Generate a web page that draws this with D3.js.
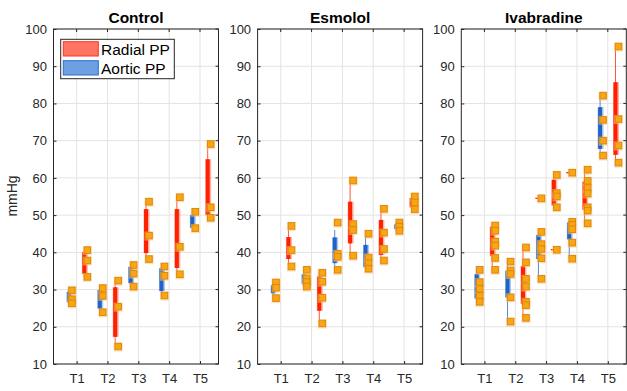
<!DOCTYPE html>
<html>
<head>
<meta charset="utf-8">
<script src="https://cdn.jsdelivr.net/npm/d3@7"></script>
<style>
  body { margin: 0; background: #fff; }
  svg { display: block; font-family: 'Liberation Sans', Arial, sans-serif; }
</style>
</head>
<body>
<svg id="chart" width="627" height="391"></svg>
<script>
const categories = ['T1', 'T2', 'T3', 'T4', 'T5'];
const groups = ['Control', 'Esmolol', 'Ivabradine'];
const yTicks = [10, 20, 30, 40, 50, 60, 70, 80, 90, 100];

// box stats per time point: [lower whisker, q1, q3, upper whisker]
const controlAorticBox = [[26.3, 26.6, 29.4, 29.8], [23.9, 24.9, 29.9, 30.4], [30.8, 31.7, 36.1, 36.6], [28.4, 29.6, 35.7, 36.2], [46.5, 46.6, 50.0, 50.9]];
const controlRadialBox = [[33.4, 34.2, 40.0, 40.6], [14.7, 17.3, 30.6, 32.4], [38.2, 39.8, 51.6, 53.6], [34.1, 35.8, 51.6, 54.8], [49.3, 50.0, 65.0, 69.1]];
const esmololAorticBox = [[27.7, 29.0, 31.2, 31.9], [30.8, 31.4, 34.1, 35.3], [35.3, 37.1, 44.0, 46.0], [35.6, 36.0, 42.0, 45.0], [45.8, 46.3, 47.5, 48.0]];
const esmololRadialBox = [[36.2, 38.2, 44.1, 47.1], [20.9, 24.3, 33.5, 34.5], [39.1, 42.4, 53.6, 59.3], [37.8, 39.3, 48.7, 51.7], [51.6, 52.1, 54.6, 55.0]];
const ivabAorticBox = [[26.7, 27.6, 34.2, 35.3], [21.4, 27.9, 35.1, 37.5], [32.9, 38.2, 44.7, 45.5], [38.3, 43.5, 48.0, 48.2], [65.8, 67.8, 79.0, 82.1]];
const ivabRadialBox = [[35.3, 39.1, 46.9, 47.2], [22.4, 26.1, 36.3, 41.3], [52.1, 52.6, 59.5, 60.8], [47.8, 51.4, 59.0, 62.2], [64.1, 66.2, 85.7, 95.3]];

// individual subjects
const controlAorticPts = [[29.8, 27.4, 26.3], [30.4, 28.3, 23.9], [36.6, 34.3, 30.8], [36.2, 33.7, 28.4], [50.9, 46.5]];
const controlRadialPts = [[40.6, 37.8, 33.4], [32.4, 25.4, 14.7], [53.6, 44.5, 38.2], [54.8, 41.5, 34.1], [69.1, 52.1, 49.3]];
const esmololAorticPts = [[31.9, 30.5, 27.7], [35.3, 33.0, 32.0, 30.8], [48.0, 39.6, 38.8, 35.3], [45.0, 38.6, 37.1, 35.6], [48.0, 46.9, 45.8]];
const esmololRadialPts = [[47.1, 40.6, 36.2], [34.5, 32.1, 27.8, 20.9], [59.3, 47.6, 46.0, 39.1], [51.7, 45.3, 40.9, 37.8], [55.0, 53.4, 51.6]];
const ivabAorticPts = [[35.3, 32.0, 30.2, 28.3, 26.7], [37.5, 35.1, 34.2, 27.9, 21.4], [54.5, 45.5, 42.2, 40.9, 38.4, 32.9], [61.4, 48.2, 47.4, 46.2, 42.6, 38.3], [82.1, 75.6, 70.0, 66.0]];
const ivabRadialPts = [[47.2, 45.8, 42.9, 41.8, 38.5, 35.3], [41.3, 37.3, 32.9, 30.8, 26.7, 25.8, 22.4], [60.8, 55.9, 55.0, 52.1, 40.7], [62.2, 59.2, 57.3, 55.8, 52.1, 51.2, 47.8], [95.3, 75.8, 68.7, 64.1]];

// outliers flagged by the boxplot
const ivabAorticOut = [[], [], [54.5], [61.4], []];
const ivabRadialOut = [[], [], [40.7], [], []];

const panels = [
  { name: groups[0], aBox: controlAorticBox, rBox: controlRadialBox, aPts: controlAorticPts, rPts: controlRadialPts, aOut: [], rOut: [] },
  { name: groups[1], aBox: esmololAorticBox, rBox: esmololRadialBox, aPts: esmololAorticPts, rPts: esmololRadialPts, aOut: [], rOut: [] },
  { name: groups[2], aBox: ivabAorticBox, rBox: ivabRadialBox, aPts: ivabAorticPts, rPts: ivabRadialPts, aOut: ivabAorticOut, rOut: ivabRadialOut },
];

const blue = '#1f63c8';
const red = '#ff2000';
const axisColor = '#262626';
const panelLeft = [53.5, 257.6, 461.3];
const panelWidth = 165;
const plotTop = 29, plotBottom = 364;

const svg = d3.select('#chart');
const y = d3.scaleLinear().domain([10, 100]).range([plotBottom, plotTop]);

panels.forEach((p, i) => {
  const L = panelLeft[i];
  const x = d3.scaleLinear().domain([0.25, 5.6]).range([L, L + panelWidth]);
  const g = svg.append('g');

  // grid
  g.append('g').selectAll('line').data(yTicks).enter().append('line')
    .attr('x1', L).attr('x2', L + panelWidth)
    .attr('y1', d => y(d)).attr('y2', d => y(d))
    .attr('stroke', '#e3e3e3').attr('stroke-width', 1);
  g.append('g').selectAll('line').data([1, 2, 3, 4, 5]).enter().append('line')
    .attr('x1', d => x(d)).attr('x2', d => x(d))
    .attr('y1', plotTop).attr('y2', plotBottom)
    .attr('stroke', '#e3e3e3').attr('stroke-width', 1);

  // axes
  const yAxis = g.append('g')
    .attr('transform', `translate(${L},0)`)
    .call(d3.axisLeft(y).tickValues(yTicks).tickSizeInner(-3).tickSizeOuter(0).tickPadding(6.5));
  const xAxis = g.append('g')
    .attr('transform', `translate(0,${plotBottom})`)
    .call(d3.axisBottom(x).tickValues([1, 2, 3, 4, 5]).tickFormat((d, j) => categories[j]).tickSizeInner(-3).tickSizeOuter(0).tickPadding(10));
  [yAxis, xAxis].forEach(a => {
    a.select('.domain').remove();
    a.selectAll('line').attr('stroke', axisColor);
    a.selectAll('text').attr('fill', axisColor).style('font-size', '13px').style('font-family', "'Liberation Sans', Arial, sans-serif");
  });
  // top / right ticks
  g.append('g').selectAll('line').data([1, 2, 3, 4, 5]).enter().append('line')
    .attr('x1', d => x(d)).attr('x2', d => x(d))
    .attr('y1', plotTop).attr('y2', plotTop + 3)
    .attr('stroke', axisColor);
  g.append('g').selectAll('line').data(yTicks).enter().append('line')
    .attr('x1', L + panelWidth - 3).attr('x2', L + panelWidth)
    .attr('y1', d => y(d)).attr('y2', d => y(d))
    .attr('stroke', axisColor);
  g.append('rect')
    .attr('x', L).attr('y', plotTop)
    .attr('width', panelWidth).attr('height', plotBottom - plotTop)
    .attr('fill', 'none').attr('stroke', axisColor).attr('stroke-width', 1);

  // title
  g.append('text')
    .attr('x', L + panelWidth / 2).attr('y', 22.5)
    .attr('text-anchor', 'middle')
    .style('font-size', '15.5px').style('font-weight', 'bold')
    .attr('fill', '#000')
    .text(p.name);

  const series = [
    { box: p.aBox, pts: p.aPts, out: p.aOut, off: -0.25, color: blue },
    { box: p.rBox, pts: p.rPts, out: p.rOut, off: 0.25, color: red },
  ];
  series.forEach(s => {
    const sg = g.append('g');
    const items = s.box.map((b, j) => ({ b, j, bx: x(j + 1 + s.off) }));
    // whiskers
    sg.selectAll('.whisker').data(items).enter().append('line')
      .attr('x1', d => d.bx).attr('x2', d => d.bx)
      .attr('y1', d => y(d.b[0])).attr('y2', d => y(d.b[3]))
      .attr('stroke', s.color).attr('stroke-width', 1).attr('opacity', 0.75);
    // boxes
    sg.selectAll('.halo').data(items).enter().append('rect')
      .attr('x', d => d.bx - 2.5).attr('width', 6)
      .attr('y', d => y(d.b[2])).attr('height', d => y(d.b[1]) - y(d.b[2]))
      .attr('fill', s.color).attr('opacity', 0.35);
    sg.selectAll('.box').data(items).enter().append('rect')
      .attr('x', d => d.bx - 2).attr('width', 4)
      .attr('y', d => y(d.b[2])).attr('height', d => y(d.b[1]) - y(d.b[2]))
      .attr('fill', s.color);
    // outlier marks
    const outs = [];
    s.out.forEach((arr, j) => arr.forEach(v => outs.push({ v, bx: x(j + 1 + s.off) })));
    sg.selectAll('.out').data(outs).enter().append('line')
      .attr('x1', d => d.bx - 3).attr('x2', d => d.bx + 1.5)
      .attr('y1', d => y(d.v)).attr('y2', d => y(d.v))
      .attr('stroke', red).attr('stroke-width', 1.3);
    // points
    const pts = [];
    s.pts.forEach((arr, j) => arr.forEach(v => pts.push({ v, px: x(j + 1 + s.off) + 3 })));
    sg.selectAll('.pshadow').data(pts).enter().append('rect')
      .attr('x', d => d.px - 4.5).attr('y', d => y(d.v) - 4)
      .attr('width', 9).attr('height', 9)
      .attr('fill', '#f9c77f').attr('opacity', 0.55);
    sg.selectAll('.pt').data(pts).enter().append('rect')
      .attr('x', d => d.px - 3.25).attr('y', d => y(d.v) - 3.25)
      .attr('width', 6.5).attr('height', 6.5)
      .attr('fill', '#f7a616').attr('stroke', '#e0880a').attr('stroke-width', 1);
  });
});

// y label
svg.append('text')
  .attr('transform', 'translate(17,196) rotate(-90)')
  .attr('text-anchor', 'middle')
  .style('font-size', '14px')
  .attr('fill', axisColor)
  .text('mmHg');

// legend
const legend = svg.append('g');
legend.append('rect')
  .attr('x', 60.7).attr('y', 39.3).attr('width', 113.6).attr('height', 39.4)
  .attr('fill', '#fff').attr('stroke', axisColor).attr('stroke-width', 1);
const legendItems = [
  { label: 'Radial PP', fill: '#ff7462', stroke: '#ff3520', y: 41.7 },
  { label: 'Aortic PP', fill: '#6e9fe0', stroke: '#2a6fd0', y: 60.7 },
];
legend.selectAll('.lp').data(legendItems).enter().append('rect')
  .attr('x', 63.3).attr('y', d => d.y).attr('width', 35).attr('height', 14.3)
  .attr('fill', d => d.fill).attr('stroke', d => d.stroke).attr('stroke-width', 1);
legend.selectAll('.lt').data(legendItems).enter().append('text')
  .attr('x', 101).attr('y', d => d.y + 12.8)
  .style('font-size', '15.5px').attr('fill', '#000')
  .text(d => d.label);
</script>
</body>
</html>
